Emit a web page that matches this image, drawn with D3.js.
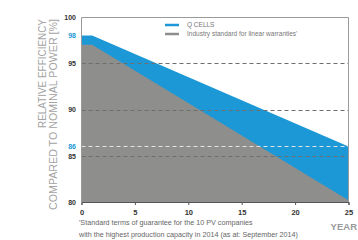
<!DOCTYPE html>
<html><head><meta charset="utf-8">
<script src="https://cdn.jsdelivr.net/npm/d3@7"></script>
<style>body{margin:0;background:#fff;}svg{display:block;font-family:"Liberation Sans",Arial,sans-serif;}</style>
</head><body>
<script>
const years = [0, 1, 25];
const qcells = [98, 98, 86];
const industry = [97, 97, 80.2];
const yTickValues = [100, 98, 95, 90, 86, 85, 80];
const yTickBlue = [98, 86];
const xTickValues = [0, 5, 10, 15, 20, 25];
const darkGrid = [95, 90, 85];
const lightGrid = [86];
const legendLabels = ["Q CELLS", "Industry standard for linear warranties'"];
const yTitle = ["RELATIVE EFFICIENCY", "COMPARED TO NOMINAL POWER  [%]"];
const footnote = ["'Standard terms of guarantee for the 10 PV companies", "with the highest production capacity in 2014 (as at: September 2014)"];

const W = 358, H = 240;
const blue = "#1b98d5", grey = "#8e8e8d";
const svg = d3.select("body").append("svg").attr("width", W).attr("height", H);
const x = d3.scaleLinear().domain([0, 25]).range([81.5, 348.5]);
const y = d3.scaleLinear().domain([80, 100]).range([202, 17]);

const area = vals => d3.area().x((d, i) => x(years[i])).y0(y(80)).y1((d) => y(d))(vals);
svg.append("path").attr("d", area(qcells)).attr("fill", blue);
svg.append("path").attr("d", area(industry)).attr("fill", grey);

// grid
svg.selectAll(".dg").data(darkGrid).enter().append("line")
  .attr("x1", x(0)).attr("x2", x(25)).attr("y1", d => Math.round(y(d)) + 0.5).attr("y2", d => Math.round(y(d)) + 0.5)
  .attr("stroke", "#6e6e6e").attr("stroke-width", 1).attr("stroke-dasharray", "4,3");
svg.selectAll(".lg").data(lightGrid).enter().append("line")
  .attr("x1", x(0)).attr("x2", x(25)).attr("y1", d => Math.round(y(d)) + 0.5).attr("y2", d => Math.round(y(d)) + 0.5)
  .attr("stroke", "#e4e4e4").attr("stroke-width", 1).attr("stroke-dasharray", "4,3");

// frame
svg.append("path").attr("d", `M${x(0)},${y(80)}V${y(100)+0.5}H${x(25)}V${y(80)}`)
  .attr("fill", "none").attr("stroke", "#9a9a9a").attr("stroke-width", 1);

// x axis
const xAxis = svg.append("g").attr("transform", `translate(0,${y(80)})`)
  .call(d3.axisBottom(x).tickValues(xTickValues).tickSize(3).tickPadding(5).tickFormat(d3.format("d")));
xAxis.select(".domain").attr("stroke", "#555");
xAxis.selectAll(".tick line").attr("stroke", "#555");
xAxis.selectAll("text").attr("font-size", 7.5).attr("font-weight", "bold").attr("fill", "#333").attr("font-family", "Liberation Sans, Arial, sans-serif");

// y axis
const yAxis = svg.append("g").attr("transform", `translate(${x(0)},0)`)
  .call(d3.axisLeft(y).tickValues(yTickValues).tickSize(0).tickPadding(5.5).tickFormat(d3.format("d")));
yAxis.select(".domain").remove();
yAxis.selectAll("text").attr("font-size", 7).attr("font-weight", "bold")
  .attr("fill", d => yTickBlue.includes(d) ? blue : "#333").attr("font-family", "Liberation Sans, Arial, sans-serif");

// y title
const titleLen = [109, 191];
yTitle.forEach((t, i) => {
  svg.append("text").attr("transform", `translate(${45.5 + i * 11.5},19) rotate(-90)`)
    .attr("text-anchor", "end").attr("font-size", 10).attr("fill", "#a3a3a3")
    .attr("textLength", titleLen[i]).attr("lengthAdjust", "spacingAndGlyphs").text(t);
});

// legend
const legColors = [blue, grey];
legendLabels.forEach((t, i) => {
  const ly = 25 + i * 9;
  svg.append("line").attr("x1", 165).attr("x2", 179).attr("y1", ly).attr("y2", ly)
    .attr("stroke", legColors[i]).attr("stroke-width", 2.5);
  svg.append("text").attr("x", 187).attr("y", ly + 2.3).attr("font-size", 6.5).attr("fill", "#777").text(t);
});

// YEAR
svg.append("text").attr("x", 357).attr("y", 230).attr("text-anchor", "end")
  .attr("font-size", 9.5).attr("font-weight", "bold").attr("fill", "#9a9a9a").text("YEAR");

// footnote
footnote.forEach((t, i) => {
  svg.append("text").attr("x", 79).attr("y", 225 + i * 11.5).attr("font-size", 7.2).attr("fill", "#666").text(t);
});
</script>
</body></html>
